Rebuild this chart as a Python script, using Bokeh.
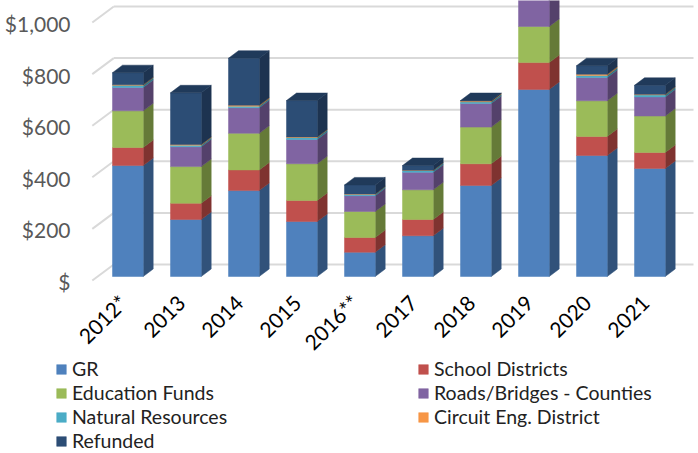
from bokeh.plotting import figure
from bokeh.models import Range1d, LinearAxis, FixedTicker, Legend, LegendItem
from bokeh.embed import file_html
from bokeh.resources import INLINE
import math

years = ["2012*", "2013", "2014", "2015", "2016**", "2017", "2018", "2019", "2020", "2021"]
GR = [430, 221, 333, 213, 94, 158, 353, 725, 469, 419]
School = [70, 63, 80, 82, 57, 63, 84, 104, 74, 62]
Education = [142, 142, 142, 142, 101, 115, 142, 140, 138, 141]
Roads = [91, 77, 99, 94, 61, 68, 92, 110, 90, 74]
Natural = [8, 6, 6, 8, 6, 7, 6, 7, 8, 8]
Circuit = [2, 3, 4, 2, 1, 1, 3, 2, 5, 2]
Refunded = [47, 200, 182, 141, 35, 18, 2, 20, 33, 35]
series_names = ["GR", "School Districts", "Education Funds", "Roads/Bridges - Counties",
                "Natural Resources", "Circuit Eng. District", "Refunded"]
series_values = [GR, School, Education, Roads, Natural, Circuit, Refunded]
legend_order = ["GR", "Education Funds", "Natural Resources", "Refunded",
                "School Districts", "Roads/Bridges - Counties", "Circuit Eng. District"]
tick_values = [0, 200, 400, 600, 800, 1000]
tick_labels = ["$", "$200", "$400", "$600", "$800", "$1,000"]

front_colors = ["#4F81BD", "#C0504D", "#9BBB59", "#8064A2", "#4BACC6", "#F79646", "#2C4D75"]
side_colors = ["#31527A", "#7F3330", "#657A38", "#54416B", "#2F7486", "#A5642C", "#1D3350"]
top_color = "#203A5A"

W, H = 698, 453
L, FH = 81, 285          # where the value axis and the category axis sit (px)
base_px = 276            # pixel row of value 0 on the bar fronts
k = 0.258                # px per dollar
step = 58                # px per category
x0_px = 127.35           # px centre of first bar
bw = 30.7 / step         # bar width in index units
dx = 10 / step           # bar depth, x
dy = 7.5 / k             # bar depth, y
back_dx, back_dy = 21.5 / step, 12 / k     # wall: bar-front plane -> back wall
wall_drop = 4 / k        # wall front edge below bar-front plane

x_range = Range1d(-x0_px / step, (W - x0_px) / step)
y_range = Range1d((base_px - H) / k, base_px / k)

p = figure(width=W, height=H, output_backend="svg", toolbar_location=None,
           x_range=x_range, y_range=y_range,
           min_border_left=0, min_border_right=0, min_border_top=0,
           min_border_bottom=0, outline_line_color=None,
           x_axis_location=None, y_axis_location=None, margin=(0, 0, 0, 0))
p.background_fill_color = None
p.border_fill_color = "white"
p.grid.visible = False

# gridlines on the back wall and side wall
xb = (113.3 - x0_px) / step
xe = (693 - x0_px) / step
xf = xb - back_dx
p.segment([xb] * 6, [v + back_dy for v in tick_values], [xe] * 6, [v + back_dy for v in tick_values],
          line_color="#D9D9D9", line_width=2)
p.segment([xf] * 6, [v - wall_drop for v in tick_values], [xb] * 6, [v + back_dy for v in tick_values],
          line_color="#D9D9D9", line_width=2)

# bars
legend_map = {}
bottoms = [0.0] * len(years)
for name, vals, fc, sc in zip(series_names, series_values, front_colors, side_colors):
    tops = [b + v for b, v in zip(bottoms, vals)]
    xs_side, ys_side = [], []
    for i, (b, t) in enumerate(zip(bottoms, tops)):
        r = i + bw / 2
        xs_side.append([r, r + dx, r + dx, r])
        ys_side.append([b, b + dy, t + dy, t])
    p.patches(xs_side, ys_side, fill_color=sc, line_color=sc, line_width=0.5)
    front = p.quad(left=[i - bw / 2 for i in range(len(years))],
                   right=[i + bw / 2 for i in range(len(years))],
                   bottom=bottoms, top=tops, fill_color=fc, line_color=fc, line_width=0.5)
    legend_map[name] = front
    bottoms = tops

xs_top, ys_top = [], []
for i, t in enumerate(bottoms):
    l, r = i - bw / 2, i + bw / 2
    xs_top.append([l, r, r + dx, l + dx])
    ys_top.append([t, t, t + dy, t + dy])
p.patches(xs_top, ys_top, fill_color=top_color, line_color=top_color, line_width=0.5)

# axes, drawn inside the frame at a fixed place
label_dx = 5 / step      # category labels sit a little left of the bar centres
p.extra_x_ranges["labels"] = Range1d(x_range.start + label_dx, x_range.end + label_dx)
xax = LinearAxis(x_range_name="labels", ticker=FixedTicker(ticks=list(range(len(years)))),
                 fixed_location=(base_px - FH) / k,
                 major_label_overrides={i: y for i, y in enumerate(years)},
                 major_label_orientation=math.pi / 4,
                 major_label_text_font="Lato", major_label_text_font_size="21px",
                 major_label_text_color="#000000", major_label_standoff=7,
                 axis_line_color=None, major_tick_line_color=None, minor_tick_line_color=None)
p.add_layout(xax, "below")

label_shift = 5 / k
p.extra_y_ranges["labels"] = Range1d((base_px - H) / k + label_shift, base_px / k + label_shift)
yax = LinearAxis(y_range_name="labels", ticker=FixedTicker(ticks=tick_values),
                 fixed_location=(L - x0_px) / step,
                 major_label_overrides=dict(zip(tick_values, tick_labels)),
                 major_label_text_font="Lato", major_label_text_font_size="21px",
                 major_label_text_color="#595959", major_label_standoff=5,
                 axis_line_color=None, major_tick_line_color=None, minor_tick_line_color=None)
p.add_layout(yax, "left")

legend = Legend(items=[LegendItem(label=n, renderers=[legend_map[n]]) for n in legend_order],
                ncols=2, location=(55, 1),
                background_fill_alpha=0, border_line_color=None, padding=0, margin=0,
                glyph_width=12, glyph_height=12, label_standoff=5, spacing=1,
                label_height=20, label_width=344,
                label_text_font="Lato", label_text_font_size="19.5px", label_text_color="#222222")
p.add_layout(legend, "center")

open("out.html", "w").write(file_html(p, INLINE))
